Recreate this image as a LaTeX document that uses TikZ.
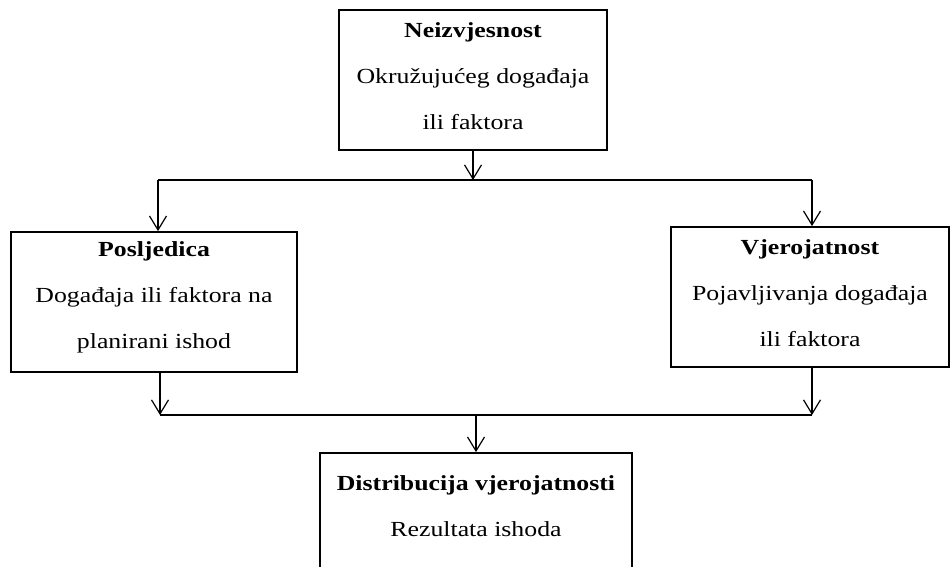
\documentclass[tikz,border=0pt]{standalone}
\usepackage{fontspec}
\setmainfont{Liberation Serif}[FakeStretch=1.2]
\usetikzlibrary{arrows.meta}
\begin{document}
\begin{tikzpicture}[x=1pt,y=-1pt,
  box/.style={draw, line width=1.8pt, align=center, inner sep=0pt, font=\fontsize{21.5}{46}\selectfont},
  conn/.style={line width=1.3pt},
  arr/.style={conn, -{Straight Barb[length=14pt,width=17pt,line width=1.2pt]}}]
\clip (0,0) rectangle (950,566);
\node[box, minimum width=268pt, minimum height=140pt] (top) at (473,80)
  {\rule{0pt}{16pt}\textbf{Neizvjesnost}\\Okružujućeg događaja\\ili faktora\rule[-10pt]{0pt}{10pt}};
\node[box, minimum width=286pt, minimum height=140pt] (left) at (154,302)
  {\rule{0pt}{15pt}\textbf{Posljedica}\\Događaja ili faktora na\\planirani ishod\rule[-15pt]{0pt}{15pt}};
\node[box, minimum width=278pt, minimum height=140pt] (right) at (810,297)
  {\rule{0pt}{16pt}\textbf{Vjerojatnost}\\Pojavljivanja događaja\\ili faktora\rule[-10pt]{0pt}{10pt}};
\node[box, minimum width=312pt, minimum height=121pt] (bottom) at (476,513.5)
  {\rule{0pt}{16pt}\textbf{Distribucija vjerojatnosti}\\Rezultata ishoda\rule[-16pt]{0pt}{16pt}};
\coordinate (hl) at (158,180);
\coordinate (hr) at (812,180);
\coordinate (bl) at (160,415);
\coordinate (br) at (812,415);
\draw[arr] (top.south) -- (top.south |- hl);
\draw[conn] (hl) -- (hr);
\draw[arr] (hl) -- (hl |- left.north);
\draw[arr] (hr) -- (hr |- right.north);
\draw[arr] (bl |- left.south) -- (bl);
\draw[arr] (br |- right.south) -- (br);
\draw[conn] (bl) -- (br);
\draw[arr] (bottom.north |- bl) -- (bottom.north);
\end{tikzpicture}
\end{document}
